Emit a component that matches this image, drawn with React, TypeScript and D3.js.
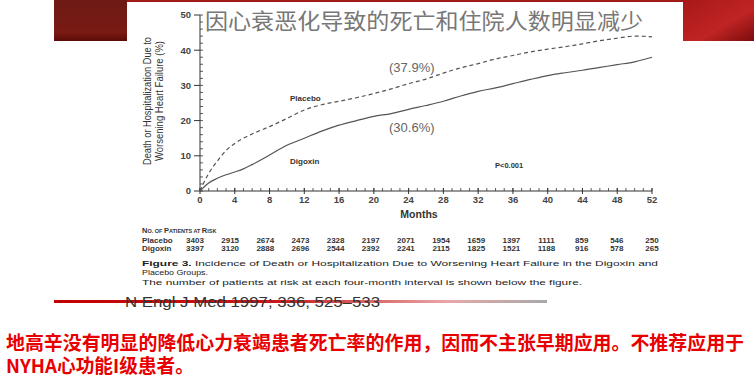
import React from "react"
import * as d3 from "d3"

// months on the x axis, cumulative event rate (%)
const months = [0, 1, 2, 3, 4, 5, 6, 8, 10, 12, 14, 16, 18, 20, 22, 24, 26, 28, 30, 32, 34, 36, 38, 40, 42, 44, 46, 48, 50, 52]
const placebo = [0, 5, 8.5, 11.5, 13.5, 15, 16.2, 18.3, 20.6, 23, 24.5, 25.5, 26.5, 27.7, 29, 30.5, 31.8, 33.5, 35, 36.2, 37.5, 38.5, 39.5, 40.3, 41, 41.8, 42.7, 43.4, 44, 43.8]
const digoxin = [0, 2.3, 3.6, 4.6, 5.4, 6.3, 7.5, 10.2, 13, 15, 17, 18.7, 20, 21.2, 22, 23.2, 24.3, 25.5, 27, 28.3, 29.3, 30.5, 31.7, 32.8, 33.6, 34.3, 35.1, 35.9, 36.7, 38]

const xTicks = [0, 4, 8, 12, 16, 20, 24, 28, 32, 36, 40, 44, 48, 52]
const yTicks = [0, 10, 20, 30, 40, 50]

const riskMonths = [0, 4, 8, 12, 16, 20, 24, 28, 32, 36, 40, 44, 48, 52]
const riskPlacebo = [3403, 2915, 2674, 2473, 2328, 2197, 2071, 1954, 1659, 1397, 1111, 859, 546, 250]
const riskDigoxin = [3397, 3120, 2888, 2696, 2544, 2392, 2241, 2115, 1825, 1521, 1188, 916, 578, 265]

const title = "因心衰恶化导致的死亡和住院人数明显减少"
const note1 = "地高辛没有明显的降低心力衰竭患者死亡率的作用，因而不主张早期应用。不推荐应用于"
const note2 = "NYHA心功能I级患者。"

const sans = "'Liberation Sans', Arial, sans-serif"
const cjk = "'Noto Sans CJK SC', sans-serif"

export default function App() {
  const x = d3.scaleLinear().domain([0, 52]).range([200, 652])
  const y = d3.scaleLinear().domain([0, 50]).range([191, 15])

  const line = d3.line<number>()
    .x((d, i) => x(months[i]))
    .y(d => y(d))
    .curve(d3.curveMonotoneX)

  const minorX = d3.range(0, 53)
  const minorY = d3.range(0, 51, 2)

  return (
    <svg width={754} height={385} style={{ position: "absolute", left: 0, top: 0, background: "#fff" }}>
      <defs>
        <linearGradient id="rightBlock" x1="0" y1="0" x2="1" y2="1">
          <stop offset="0" stopColor="#a81818" />
          <stop offset="0.6" stopColor="#c02424" />
          <stop offset="1" stopColor="#7a0c0c" />
        </linearGradient>
        <linearGradient id="leftBlock" x1="0" y1="0" x2="0" y2="1">
          <stop offset="0" stopColor="#6e1a14" />
          <stop offset="0.8" stopColor="#7a1a14" />
          <stop offset="1" stopColor="#5a0a08" />
        </linearGradient>
        <linearGradient id="footLine" x1="0" y1="0" x2="1" y2="0">
          <stop offset="0" stopColor="#c00000" />
          <stop offset="0.45" stopColor="#c81818" />
          <stop offset="0.8" stopColor="#e8a8a8" />
          <stop offset="1" stopColor="#a8a8a8" />
        </linearGradient>
      </defs>

      {/* slide decoration */}
      <rect x={54} y={0} width={73} height={41} fill="url(#leftBlock)" />
      <rect x={127} y={0} width={556} height={2} fill="#a01818" />
      <rect x={683} y={0} width={71} height={41} fill="url(#rightBlock)" />

      {/* title */}
      <text x={205} y={29} fontFamily={cjk} fontSize={21.5} fill="#777" textLength={438} lengthAdjust="spacingAndGlyphs">{title}</text>

      {/* y axis */}
      <line x1={200} x2={200} y1={y(50)} y2={y(0)} stroke="#333" />
      {minorY.map(v => (
        <line key={"my" + v} x1={200} x2={203} y1={y(v)} y2={y(v)} stroke="#333" strokeWidth={0.8} />
      ))}
      {yTicks.map(v => (
        <g key={"y" + v}>
          <line x1={194} x2={200} y1={y(v)} y2={y(v)} stroke="#333" />
          <text x={191} y={y(v)} dy="0.35em" textAnchor="end" fontFamily={sans} fontWeight="bold" fontSize={9.5} fill="#444">{v}</text>
        </g>
      ))}
      <g transform={`translate(151,${y(25) - 2}) rotate(-90)`}>
        <text textAnchor="middle" fontFamily={"'Liberation Sans Narrow', " + sans} fontSize={10} fill="#333" textLength={128} lengthAdjust="spacingAndGlyphs">Death or Hospitalization Due to</text>
        <text y={12} textAnchor="middle" fontFamily={"'Liberation Sans Narrow', " + sans} fontSize={10} fill="#333" textLength={120} lengthAdjust="spacingAndGlyphs">Worsening Heart Failure (%)</text>
      </g>

      {/* x axis */}
      <line x1={x(0)} x2={x(52)} y1={y(0)} y2={y(0)} stroke="#333" />
      {minorX.map(m => (
        <line key={"mx" + m} x1={x(m)} x2={x(m)} y1={y(0)} y2={y(0) - 3} stroke="#333" strokeWidth={0.8} />
      ))}
      {xTicks.map(m => (
        <g key={"x" + m}>
          <line x1={x(m)} x2={x(m)} y1={y(0) - 3} y2={y(0) + 3} stroke="#333" />
          <text x={x(m)} y={203} textAnchor="middle" fontFamily={sans} fontWeight="bold" fontSize={9.5} fill="#444">{m}</text>
        </g>
      ))}
      <text x={419} y={218} textAnchor="middle" fontFamily={sans} fontWeight="bold" fontSize={10.5} fill="#333">Months</text>

      {/* curves */}
      <path d={line(placebo) ?? ""} fill="none" stroke="#555" strokeWidth={1.2} strokeDasharray="4,3" />
      <path d={line(digoxin) ?? ""} fill="none" stroke="#555" strokeWidth={1.2} />

      <text x={290} y={101} fontFamily={sans} fontWeight="bold" fontSize={8} fill="#333">Placebo</text>
      <text x={290} y={164} fontFamily={sans} fontWeight="bold" fontSize={8} fill="#333">Digoxin</text>
      <text x={389} y={72} fontFamily={sans} fontSize={13} fill="#666">(37.9%)</text>
      <text x={389} y={132} fontFamily={sans} fontSize={13} fill="#666">(30.6%)</text>
      <text x={495} y={168} fontFamily={sans} fontWeight="bold" fontSize={7.5} fill="#333">P&lt;0.001</text>

      {/* patients at risk */}
      <text x={142} y={233} fontFamily={sans} fontWeight="bold" fontSize={7.5} fill="#333">
        N<tspan fontSize={5.5}>O. OF </tspan>P<tspan fontSize={5.5}>ATIENTS AT </tspan>R<tspan fontSize={5.5}>ISK</tspan>
      </text>
      <text x={142} y={243} fontFamily={sans} fontWeight="bold" fontSize={8} fill="#333">Placebo</text>
      <text x={142} y={251} fontFamily={sans} fontWeight="bold" fontSize={8} fill="#333">Digoxin</text>
      {riskMonths.map((m, i) => (
        <g key={"r" + m} fontFamily={sans} fontWeight="bold" fontSize={8} fill="#333" textAnchor="middle">
          <text x={x(m) - 5 * (1 - m / 52)} y={243}>{riskPlacebo[i]}</text>
          <text x={x(m) - 5 * (1 - m / 52)} y={251}>{riskDigoxin[i]}</text>
        </g>
      ))}

      {/* caption */}
      <text x={142} y={266} fontFamily={sans} fontSize={8} fill="#222" textLength={516} lengthAdjust="spacingAndGlyphs">
        <tspan fontWeight="bold">Figure 3.</tspan> Incidence of Death or Hospitalization Due to Worsening Heart Failure in the Digoxin and
      </text>
      <text x={142} y={274.5} fontFamily={sans} fontSize={8} fill="#222" textLength={66} lengthAdjust="spacingAndGlyphs">Placebo Groups.</text>
      <text x={142} y={285} fontFamily={sans} fontSize={8} fill="#222" textLength={440} lengthAdjust="spacingAndGlyphs">
        The number of patients at risk at each four-month interval is shown below the figure.
      </text>

      {/* reference */}
      <rect x={54} y={300} width={493} height={3} fill="url(#footLine)" />
      <text x={125} y={307} fontFamily={sans} fontSize={14} fill="#333" textLength={255} lengthAdjust="spacingAndGlyphs">N Engl J Med 1997; 336, 525–533</text>

      {/* note */}
      <text x={6} y={350} fontFamily={cjk} fontWeight="bold" fontSize={19} fill="#e80000" textLength={738} lengthAdjust="spacingAndGlyphs">{note1}</text>
      <text x={6} y={373} fontFamily={cjk} fontWeight="bold" fontSize={19} fill="#e80000" textLength={188} lengthAdjust="spacingAndGlyphs">{note2}</text>
    </svg>
  )
}
